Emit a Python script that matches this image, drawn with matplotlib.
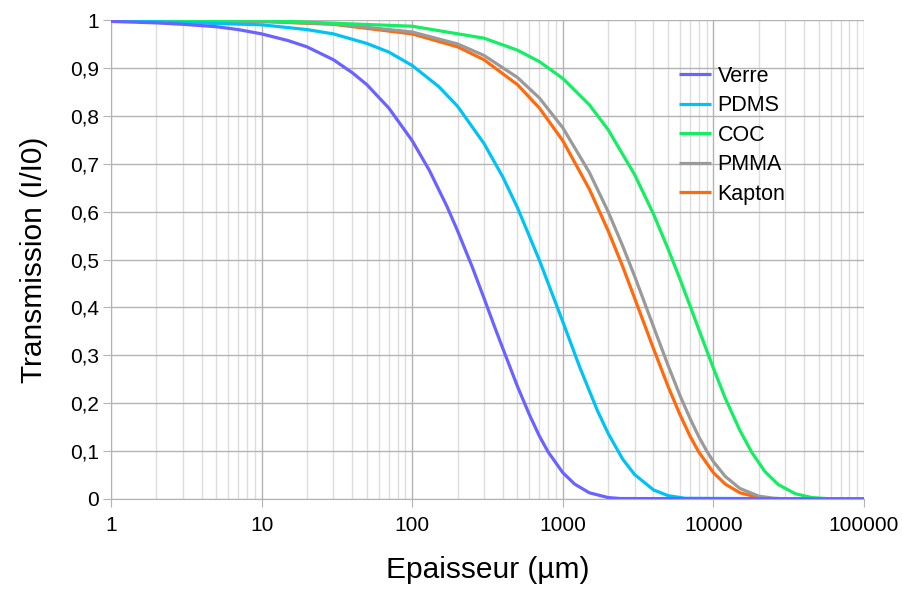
import numpy as np
import matplotlib
matplotlib.use("Agg")
import matplotlib.pyplot as plt
from matplotlib.ticker import FuncFormatter, LogLocator, NullFormatter

plt.rcParams['font.family'] = ['Liberation Sans', 'DejaVu Sans']

# values (thickness in um, transmission I/I0)
verre_x = [1, 2, 3, 5, 7, 10, 15, 20, 30, 40, 50, 70, 100, 130, 170, 200, 250, 300, 350, 400,
           500, 600, 700, 800, 1000, 1200, 1500, 2000, 2400, 100000]
verre_y = [0.997, 0.994, 0.991, 0.986, 0.980, 0.971, 0.957, 0.944, 0.917, 0.890, 0.865, 0.816,
           0.748, 0.686, 0.611, 0.560, 0.485, 0.419, 0.362, 0.314, 0.235, 0.176, 0.131, 0.098,
           0.055, 0.031, 0.013, 0.003, 0.001, 0.0]

pdms_x = [1, 10, 20, 30, 50, 70, 100, 150, 200, 300, 400, 500, 700, 1000, 1300, 1700, 2000,
          2500, 3000, 4000, 5000, 6500, 100000]
pdms_y = [0.999, 0.990, 0.980, 0.971, 0.951, 0.933, 0.905, 0.861, 0.820, 0.742, 0.672, 0.608,
          0.498, 0.370, 0.274, 0.184, 0.137, 0.083, 0.051, 0.019, 0.007, 0.0015, 0.0]

coc_x = [1, 10, 100, 300, 500, 700, 1000, 1500, 2000, 3000, 4000, 5000, 6000, 7000, 8000,
         10000, 12000, 15000, 18000, 22000, 27000, 35000, 45000, 60000, 100000]
coc_y = [1.0, 0.999, 0.987, 0.962, 0.937, 0.913, 0.878, 0.823, 0.771, 0.677, 0.595, 0.522,
         0.459, 0.403, 0.354, 0.273, 0.210, 0.143, 0.097, 0.057, 0.030, 0.011, 0.003, 0.0004, 0.0]

pmma_x = [1, 10, 30, 100, 200, 300, 500, 700, 1000, 1500, 2000, 2500, 3000, 4000, 5000, 6000,
          7000, 8000, 9000, 10000, 12000, 15000, 20000, 25000, 30000, 100000]
pmma_y = [1.0, 0.997, 0.992, 0.975, 0.950, 0.926, 0.880, 0.837, 0.775, 0.682, 0.600, 0.528,
          0.465, 0.360, 0.279, 0.216, 0.168, 0.130, 0.101, 0.078, 0.047, 0.022, 0.006, 0.0017,
          0.0005, 0.0]

kapton_x = [1, 10, 30, 100, 200, 300, 500, 700, 1000, 1500, 2000, 2500, 3000, 4000, 5000, 6000,
            7000, 8000, 10000, 12000, 15000, 20000, 25000, 100000]
kapton_y = [1.0, 0.997, 0.991, 0.971, 0.944, 0.917, 0.865, 0.816, 0.748, 0.647, 0.560, 0.485,
            0.419, 0.314, 0.235, 0.176, 0.131, 0.098, 0.055, 0.031, 0.013, 0.003, 0.0007, 0.0]

series = [
    ("Verre", verre_x, verre_y, "#6b63ff", 6),
    ("PDMS", pdms_x, pdms_y, "#00c3f5", 5),
    ("COC", coc_x, coc_y, "#14ee62", 4),
    ("PMMA", pmma_x, pmma_y, "#9a9a9a", 3),
    ("Kapton", kapton_x, kapton_y, "#ff6a0d", 2),
]

fig = plt.figure(figsize=(9.03, 5.92), dpi=100)
ax = fig.add_axes([111 / 903, 93 / 592, 753 / 903, 479 / 592])

for name, xs, ys, col, z in series:
    ax.plot(xs, ys, color=col, lw=2.3, label=name, zorder=z, solid_capstyle='butt')

ax.set_xscale('log')
ax.set_xlim(1, 100000)
ax.set_ylim(0, 1)
ax.set_yticks(np.arange(0, 1.01, 0.1))
ax.yaxis.set_major_formatter(FuncFormatter(lambda v, p: ('%g' % round(v, 1)).replace('.', ',')))
ax.xaxis.set_major_formatter(FuncFormatter(lambda v, p: '%d' % round(v)))
ax.xaxis.set_minor_locator(LogLocator(base=10, subs=np.arange(2, 10), numticks=20))
ax.xaxis.set_minor_formatter(NullFormatter())

ax.grid(True, which='major', color='#b3b3b3', lw=1.0, zorder=0)
ax.grid(True, which='minor', axis='x', color='#dddddd', lw=1.0, zorder=0)
ax.set_axisbelow(True)

for s in ['top', 'right']:
    ax.spines[s].set_visible(False)
for s in ['left', 'bottom']:
    ax.spines[s].set_color('#b3b3b3')
ax.tick_params(which='major', length=5.5, color='#b3b3b3', labelsize=15)
ax.tick_params(axis='x', pad=7)
ax.tick_params(axis='y', pad=3)
ax.tick_params(which='minor', length=0)

ax.set_xlabel("Epaisseur (µm)", fontsize=21.5, labelpad=15)
ax.set_ylabel("Transmission (I/I0)", fontsize=21.5, labelpad=16)

ax.legend(loc='upper left', bbox_to_anchor=(0.754, 0.905), frameon=False, fontsize=15.5,
          handlelength=1.5, handletextpad=0.3, labelspacing=0.4, borderaxespad=0,
          borderpad=0)

fig.savefig("out.png", dpi=100)
